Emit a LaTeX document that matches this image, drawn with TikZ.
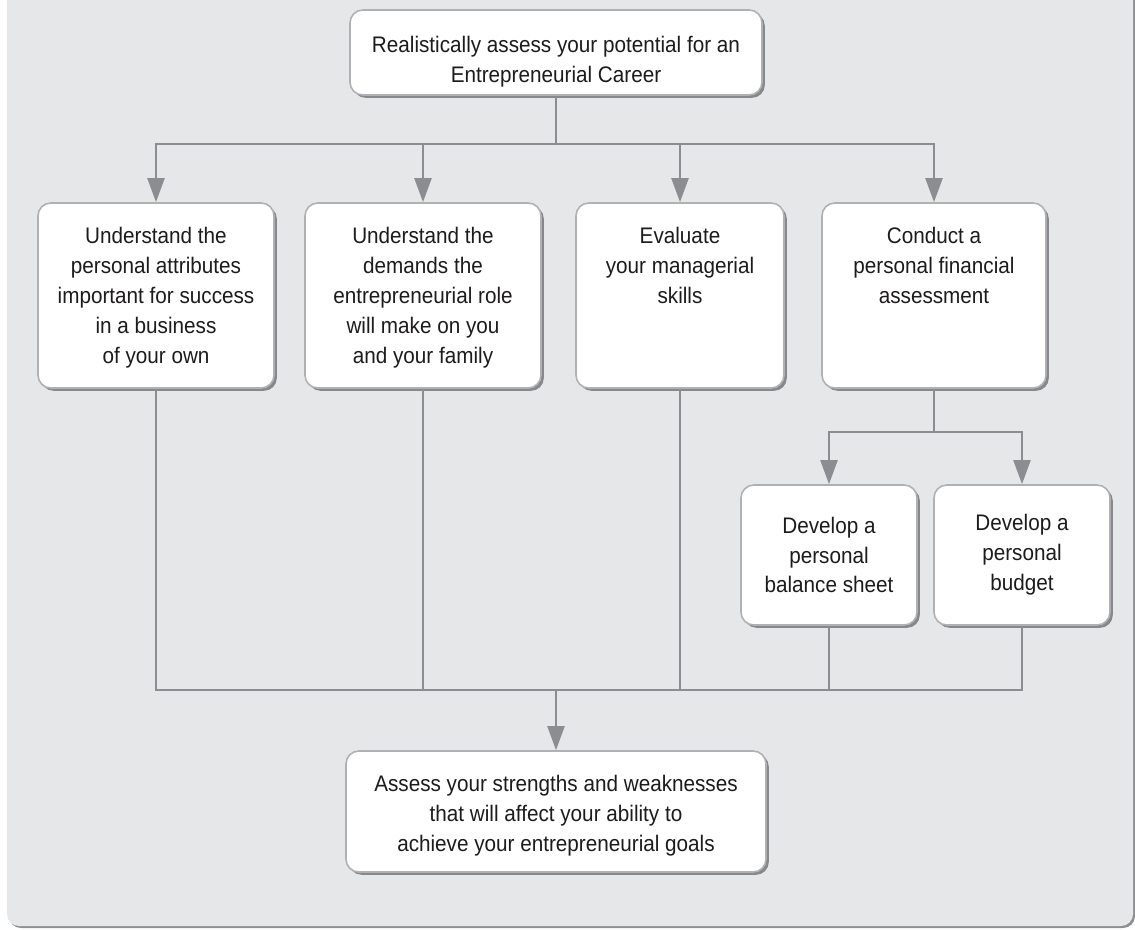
\documentclass[tikz,border=0pt]{standalone}
\usepackage{fontspec}
\setmainfont{Liberation Sans}[FakeStretch=0.92]
\usepackage{tikz}
\usetikzlibrary{arrows.meta,positioning,shadows}

\definecolor{panelgray}{HTML}{E6E7E9}
\definecolor{panelshadow}{HTML}{8E8F92}
\definecolor{linegray}{HTML}{8C8D90}
\definecolor{boxedge}{HTML}{B0B1B4}
\definecolor{boxshadow}{HTML}{87888B}
\definecolor{inkgray}{HTML}{1E1B1C}

\newcommand{\boxfont}{\fontsize{16pt}{21.3pt}\selectfont}

\tikzset{
	card/.style={draw=boxedge, line width=0.04cm, fill=white, rounded corners=0.32cm,
		drop shadow={shadow xshift=0.07cm, shadow yshift=-0.07cm, fill=boxshadow, opacity=1},
		align=center, inner sep=0pt, text=inkgray, font=\boxfont},
	cardtext/.style={align=center, inner sep=0pt, text=inkgray, font=\boxfont},
	link/.style={draw=linegray, line width=0.07cm},
	flow/.style={link, -{Triangle[width=0.42cm,length=0.6cm]}}
}

\begin{document}
\begin{tikzpicture}
		\useasboundingbox (0,0) rectangle (28.375,-23.225);
		\fill[panelshadow, rounded corners=0.3cm] (0.225,1) rectangle (28.375,-23.2);
		\fill[panelgray, rounded corners=0.3cm] (0.175,1) rectangle (28.325,-23.15);
		
		% top box
		\node[card, minimum width=10.3cm, minimum height=2.125cm] (career) at (13.9,-1.3125) {};
		\node[cardtext, below=0.68cm of career.north] (careertext) {Realistically assess your potential for an\\Entrepreneurial Career};
		
		% four steps
		\node[card, minimum width=5.9cm, minimum height=4.625cm] (attr) at (3.9,-7.3875) {};
		\node[card, minimum width=5.9cm, minimum height=4.625cm] (demands) at (10.575,-7.3875) {};
		\node[card, minimum width=5.2cm, minimum height=4.625cm] (skills) at (17,-7.3875) {};
		\node[card, minimum width=5.6cm, minimum height=4.625cm] (finance) at (23.35,-7.3875) {};
		\node[cardtext, below=0.62cm of attr.north] (attrtext) {Understand the\\personal attributes\\important for success\\in a business\\of your own};
		\node[cardtext, below=0.62cm of demands.north] (demandstext) {Understand the\\demands the\\entrepreneurial role\\will make on you\\and your family};
		\node[cardtext, below=0.62cm of skills.north] (skillstext) {Evaluate\\your managerial\\skills};
		\node[cardtext, below=0.62cm of finance.north] (financetext) {Conduct a\\personal financial\\assessment};
		
		% financial assessment
		\node[card, minimum width=4.4cm, minimum height=3.5cm] (balance) at (20.725,-13.875) {Develop a\\personal\\balance sheet};
		\node[card, minimum width=4.4cm, minimum height=3.5cm] (budget) at (25.55,-13.875) {Develop a\\personal\\budget};
		
		% bottom box
		\node[card, minimum width=10.5cm, minimum height=3.025cm] (goals) at (13.9,-20.2875) {};
		\node[cardtext, below=0.62cm of goals.north] (goalstext) {Assess your strengths and weaknesses\\that will affect your ability to\\achieve your entrepreneurial goals};
		
		\coordinate (topbus) at (13.9,-3.6);
		\coordinate (finbus) at (23.35,-10.8);
		\coordinate (lowbus) at (13.9,-17.25);
		
		\draw[link] (career.south) -- (topbus);
		\foreach \b in {attr,demands,skills,finance}
			\draw[flow] (topbus) -| (\b.north);
		\draw[link] (finance.south) -- (finbus);
		\foreach \b in {balance,budget}
			\draw[flow] (finbus) -| (\b.north);
		\foreach \b in {attr,demands,skills,balance,budget}
			\draw[link] (\b.south) |- (lowbus);
		\draw[flow] (lowbus) -- (goals.north);
	\end{tikzpicture}
\end{document}
